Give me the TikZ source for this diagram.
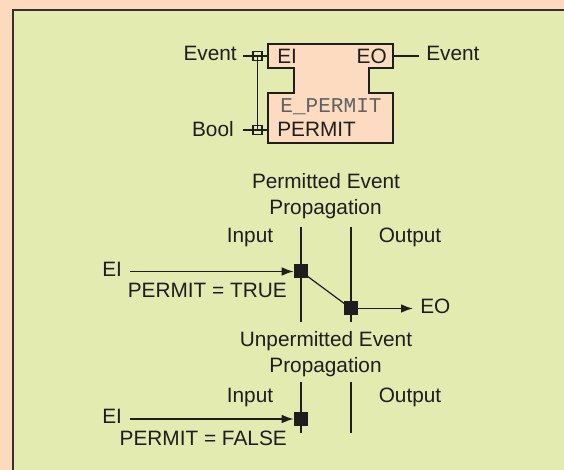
\documentclass[tikz,border=0pt]{standalone}
\usepackage{fontspec}
\setmainfont{Liberation Sans}
\newfontfamily\monofont{Liberation Mono}
\usetikzlibrary{arrows.meta}
\definecolor{peach}{RGB}{253,218,190}
\definecolor{leaf}{RGB}{227,235,176}
\definecolor{fbfill}{RGB}{253,219,192}
\definecolor{frameline}{RGB}{50,50,50}
\definecolor{ink}{RGB}{30,30,30}
\begin{document}
\begin{tikzpicture}[x=0.75pt,y=-0.75pt,
  lbl/.style={inner sep=0pt, font=\fontsize{15.6}{18}\selectfont, text=ink},
  mono/.style={inner sep=0pt, font=\monofont\fontsize{15.8}{18}\selectfont, text=black!62},
  axis/.style={ink, line width=1.5pt},
  port/.style={draw=ink, line width=1.2pt, minimum size=6.8pt, inner sep=0pt},
  marker/.style={fill=ink, minimum size=10.5pt, inner sep=0pt},
  wire/.style={ink, line width=1.4pt},
  flow/.style={ink, line width=1.2pt, -{Latex[length=9pt,width=6.5pt]}},
  link/.style={ink, line width=0.9pt}]
\useasboundingbox (0,0) rectangle (564,470);
% background and frame
\fill[peach] (0,0) rectangle (564,470);
\fill[leaf] (12.5,10.5) rectangle (564,470);
\draw[frameline, line width=1.5pt] (12.5,470) -- (12.5,10.5) -- (564,10.5);

% ---- function block E_PERMIT ----
\draw[ink, fill=fbfill, line width=1.7pt]
  (268,44) -- (393,44) -- (393,68) -- (369,68) -- (369,93) -- (393,93)
  -- (393,143) -- (268,143) -- (268,93) -- (294,93) -- (294,68) -- (268,68) -- cycle;
\node[lbl, anchor=base west] (fbei) at (277,64) {EI};
\node[lbl, anchor=base east] (fbeo) at (387,64) {EO};
\node[mono, anchor=base] (fbname) at (331,113) {E\_PERMIT};
\node[lbl, anchor=base west] (fbpermit) at (277,137) {PERMIT};

\node[lbl, anchor=base east] (evin) at (237,61) {Event};
\node[lbl, anchor=base east] (boolin) at (234,137) {Bool};
\node[lbl, anchor=base west] (evout) at (426,61) {Event};

\coordinate (evinA) at (243,56);
\coordinate (evinB) at (268,56);
\coordinate (boolA) at (243,130);
\coordinate (boolB) at (268,130);
\coordinate (eoA) at (393,56);
\coordinate (eoB) at (419,56);
\node[port] (wev) at (257.5,56) {};
\node[port] (wbool) at (257.5,130) {};
\draw[wire] (evinA) -- (evinB);
\draw[wire] (boolA) -- (boolB);
\draw[wire] (wev.center) -- (wbool.center);
\draw[wire] (eoA) -- (eoB);
\node[port] at (wev) {};
\node[port] at (wbool) {};

% ---- permitted event propagation ----
\node[lbl, anchor=base] (ptitle1) at (326,189) {Permitted Event};
\node[lbl, anchor=base] (ptitle2) at (325.5,215) {Propagation};
\node[lbl, anchor=base] (pin) at (250,243) {Input};
\node[lbl, anchor=base] (pout) at (410,243) {Output};
\draw[axis] (301,227) -- (301,322);
\draw[axis] (351,227) -- (351,322);
\node[lbl, anchor=base west] (pei) at (102,277) {EI};
\node[lbl, anchor=base east] (ptrue) at (287,298) {PERMIT = TRUE};
\node[lbl, anchor=base west] (peo) at (420,314) {EO};
\node[marker] (pm1) at (301,271.5) {};
\node[marker] (pm2) at (351,308.5) {};
\coordinate (peiA) at (130,271.5);
\coordinate (peoB) at (413,308.5);
\draw[flow] (peiA) -- (pm1);
\draw[link] (pm1.center) -- (pm2.center);
\draw[flow] (pm2) -- (peoB);

% ---- unpermitted event propagation ----
\node[lbl, anchor=base] (utitle1) at (326,346) {Unpermitted Event};
\node[lbl, anchor=base] (utitle2) at (325.5,372) {Propagation};
\node[lbl, anchor=base] (uin) at (250,402) {Input};
\node[lbl, anchor=base] (uout) at (410,402) {Output};
\draw[axis] (301,382) -- (301,433);
\draw[axis] (351,382) -- (351,433);
\node[lbl, anchor=base west] (uei) at (102,423) {EI};
\node[lbl, anchor=base east] (ufalse) at (287,445) {PERMIT = FALSE};
\node[marker] (um1) at (301,419) {};
\coordinate (ueiA) at (130,419);
\draw[flow] (ueiA) -- (um1);
\end{tikzpicture}
\end{document}
